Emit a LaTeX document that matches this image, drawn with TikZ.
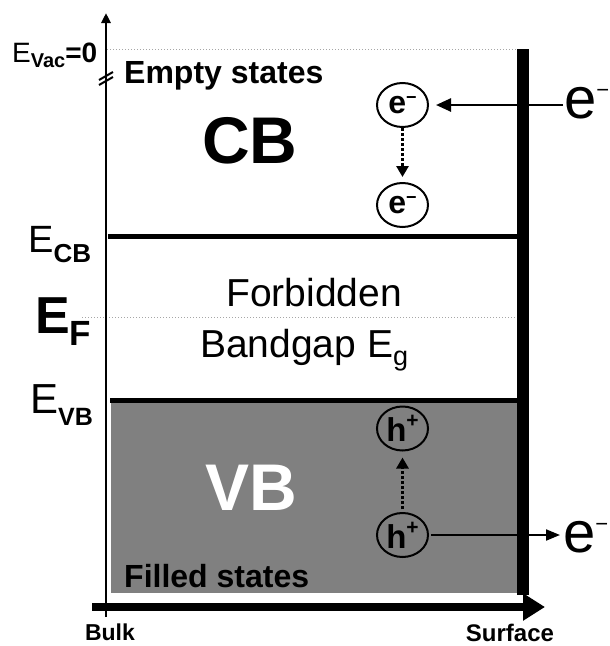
\documentclass[tikz,border=0pt]{standalone}
\usepackage{fontspec}
\setmainfont{Liberation Sans}
\usetikzlibrary{arrows.meta,shapes.geometric}
\newcommand{\fsz}[1]{\fontsize{#1}{#1}\selectfont}
\newcommand{\lowr}[2]{\raisebox{-#1pt}{#2}}

\begin{document}
\begin{tikzpicture}[x=1pt, y=-1pt,
  txt/.style={inner sep=0pt, anchor=base},
  level/.style={line width=5pt},
  guide/.style={gray!70, line width=1pt, dotted},
  carrier/.style={draw, ellipse, line width=2pt, minimum width=51pt,
                  minimum height=44pt, inner sep=0pt, font=\fsz{32}\bfseries},
  arr/.style={-{Triangle[length=15pt,width=13pt]}, line width=2.5pt},
  thinarr/.style={-{Triangle[length=14pt,width=11pt]}, line width=2pt},
  dotarr/.style={-{Triangle[length=11pt,width=12pt]}, line width=3pt,
                 dash pattern=on 3pt off 2pt}]
\useasboundingbox (0,0) rectangle (610,646);
% bands
\fill[gray] (111,402) rectangle (517,593);
\draw[guide] (107,49) -- (517,49);
\draw[guide] (82,317) -- (517,317);
\draw[level] (108,236.5) -- (517,236.5);
\draw[level] (110,400) -- (517,400);
\fill (517,49) rectangle (529,595);
% axes
\coordinate (ybot) at (106,617);
\coordinate (ytop) at (106,13);
\coordinate (xleft) at (92,607);
\coordinate (xright) at (545,607);
\draw[-{Triangle[length=10pt,width=9pt]}, line width=2.5pt] (ybot) -- (ytop);
\draw[-{Triangle[length=22pt,width=26pt]}, line width=8pt] (xleft) -- (xright);
\draw[line width=2pt] (99,80) -- (113,72) (99,85) -- (113,77);
% labels
\node[txt, anchor=base west, font=\fsz{28}] (evac) at (12,62)
  {E\lowr{5}{\fsz{20}\bfseries Vac}\textbf{=0}};
\node[txt, anchor=base west, font=\fsz{32}\bfseries] (empty) at (124,83) {Empty states};
\node[txt, font=\fsz{66}\bfseries] (cb) at (250,163) {CB};
\node[txt, anchor=base west, font=\fsz{38}] (ecb) at (28,252)
  {E\lowr{10}{\fsz{26}\bfseries CB}};
\node[txt, anchor=base west, font=\fsz{52}\bfseries] (ef) at (35,333)
  {E\lowr{12}{\fsz{35}F}};
\node[txt, font=\fsz{39}] (forb) at (314,306) {Forbidden};
\node[txt, anchor=base west, font=\fsz{39}] (gap) at (200,357)
  {Bandgap E\lowr{8}{\fsz{27}g}};
\node[txt, anchor=base west, font=\fsz{42}] (evb) at (30,413)
  {E\lowr{12}{\fsz{25}\bfseries VB}};
\node[txt, font=\fsz{66}\bfseries, text=white] (vb) at (251,510) {VB};
\node[txt, anchor=base west, font=\fsz{32}\bfseries] (filled) at (124,587) {Filled states};
\node[txt, font=\fsz{23}\bfseries] (bulk) at (110,640) {Bulk};
\node[txt, font=\fsz{24}\bfseries] (surf) at (510,641) {Surface};
% carriers
\node[carrier] (e1) at (402.5,105) {e\raisebox{10pt}{\fsz{18}−}};
\node[carrier] (e2) at (402.5,205) {e\raisebox{10pt}{\fsz{18}−}};
\node[carrier, font=\fsz{33}\bfseries] (h1) at (402.5,428.5) {h\raisebox{14pt}{\fsz{21}+}};
\node[carrier, font=\fsz{33}\bfseries] (h2) at (402.5,535) {h\raisebox{14pt}{\fsz{21}+}};
\node[txt, anchor=base west, font=\fsz{58}] (eout1) at (564,118) {e\raisebox{21pt}{\fsz{22}−}};
\node[txt, anchor=base west, font=\fsz{58}] (eout2) at (563,552) {e\raisebox{21pt}{\fsz{22}−}};
\draw[arr, shorten <=1pt, shorten >=7pt] (eout1.west |- e1.east) -- (e1.east);
\draw[dotarr, shorten >=5pt] (e1) -- (e2);
\draw[dotarr, shorten <=3pt, shorten >=6pt] (h2) -- (h1);
\draw[thinarr, shorten <=2pt, shorten >=3pt] (h2.east) -- (h2.east -| eout2.west);
\end{tikzpicture}
\end{document}
